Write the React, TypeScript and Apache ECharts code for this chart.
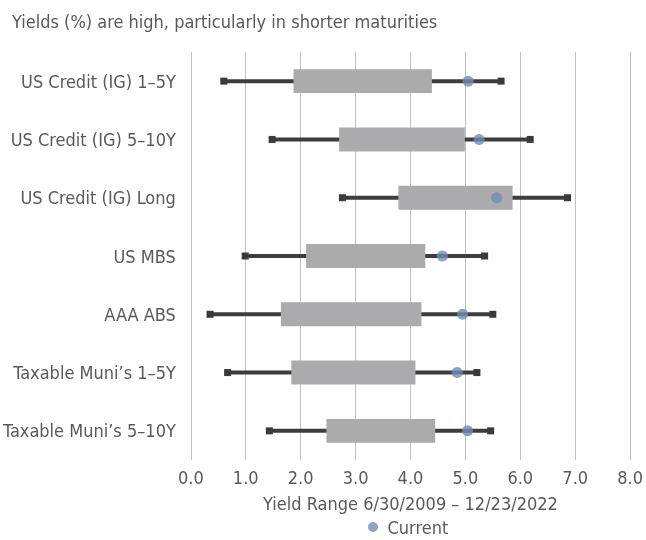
import React, { useEffect, useRef } from "react";
import * as echarts from "echarts";

const categories = [
  "US Credit (IG) 1–5Y",
  "US Credit (IG) 5–10Y",
  "US Credit (IG) Long",
  "US MBS",
  "AAA ABS",
  "Taxable Muni’s 1–5Y",
  "Taxable Muni’s 5–10Y",
];
const rangeMin = [0.6, 1.48, 2.76, 0.99, 0.35, 0.67, 1.43];
const rangeLow = [1.87, 2.7, 3.78, 2.1, 1.64, 1.83, 2.47];
const rangeHigh = [4.39, 4.99, 5.86, 4.27, 4.2, 4.09, 4.45];
const rangeMax = [5.65, 6.18, 6.86, 5.35, 5.5, 5.21, 5.46];
const current = [5.05, 5.25, 5.57, 4.58, 4.95, 4.85, 5.04];
const xTicks = [0, 1, 2, 3, 4, 5, 6, 7, 8];

const FONT = "'DejaVu Sans Condensed', 'Liberation Sans Narrow', 'Roboto', sans-serif";
const TEXT = "#595959";
const FS = 18;

export default function App() {
  const ref = useRef<HTMLDivElement>(null);
  useEffect(() => {
    if (!ref.current) return;
    const chart = echarts.init(ref.current, undefined, { renderer: "svg" });
    const rangeData = categories.map((_, i) => [i, rangeMin[i], rangeLow[i], rangeHigh[i], rangeMax[i]]);
    chart.setOption({
      animation: false,
      textStyle: { fontFamily: FONT },
      title: {
        text: "Yields (%) are high, particularly in shorter maturities",
        left: 7,
        top: 7,
        textStyle: { fontFamily: FONT, fontSize: FS, fontWeight: "normal", color: TEXT },
      },
      legend: {
        data: [{ name: "Current", icon: "circle" }],
        left: 368,
        top: 518,
        padding: 0,
        itemWidth: 19,
        itemHeight: 10,
        textStyle: { fontFamily: FONT, fontSize: FS, color: TEXT },
      },
      grid: { left: 183, right: 10, top: 52, bottom: 80, containLabel: false },
      xAxis: {
        type: "value",
        min: xTicks[0],
        max: xTicks[xTicks.length - 1],
        interval: 1,
        name: "Yield Range 6/30/2009 – 12/23/2022",
        nameLocation: "middle",
        nameGap: 34,
        nameTextStyle: { fontFamily: FONT, fontSize: FS, color: TEXT },
        axisLine: { show: false },
        axisTick: { show: false },
        axisLabel: {
          fontFamily: FONT,
          fontSize: FS,
          color: TEXT,
          margin: 8,
          formatter: (v: number) => v.toFixed(1),
        },
        splitLine: { show: true, lineStyle: { color: "#BFBFBF", width: 1 } },
      },
      yAxis: {
        type: "category",
        data: categories,
        inverse: true,
        axisLine: { show: false },
        axisTick: { show: false },
        splitLine: { show: false },
        axisLabel: { fontFamily: FONT, fontSize: FS, color: TEXT, margin: 15 },
      },
      series: [
        {
          type: "custom",
          name: "Range",
          data: rangeData,
          encode: { x: [1, 2, 3, 4], y: 0 },
          renderItem: (params: any, api: any) => {
            const cat = api.value(0);
            const pMin = api.coord([api.value(1), cat]);
            const pLow = api.coord([api.value(2), cat]);
            const pHigh = api.coord([api.value(3), cat]);
            const pMax = api.coord([api.value(4), cat]);
            const bandH = api.size([0, 1])[1];
            const boxH = bandH * 0.41;
            const y = pMin[1];
            const sq = 7;
            return {
              type: "group",
              children: [
                {
                  type: "line",
                  shape: { x1: pMin[0], y1: y, x2: pMax[0], y2: y },
                  style: { stroke: "#3D3D3D", lineWidth: 4 },
                },
                {
                  type: "rect",
                  shape: { x: pMin[0] - sq / 2, y: y - sq / 2, width: sq, height: sq },
                  style: { fill: "#3A3A3A" },
                },
                {
                  type: "rect",
                  shape: { x: pMax[0] - sq / 2, y: y - sq / 2, width: sq, height: sq },
                  style: { fill: "#3A3A3A" },
                },
                {
                  type: "rect",
                  shape: { x: pLow[0], y: y - boxH / 2, width: pHigh[0] - pLow[0], height: boxH },
                  style: { fill: "#ABABAD" },
                },
              ],
            };
          },
          z: 2,
        },
        {
          type: "scatter",
          name: "Current",
          data: current.map((v, i) => [v, i]),
          symbol: "circle",
          symbolSize: 11,
          itemStyle: { color: "#6F8DB5" },
          z: 3,
        },
      ],
    });
    return () => chart.dispose();
  }, []);
  return (
    <div
      ref={ref}
      style={{ position: "fixed", left: 0, top: 0, width: 646, height: 540 }}
    />
  );
}
